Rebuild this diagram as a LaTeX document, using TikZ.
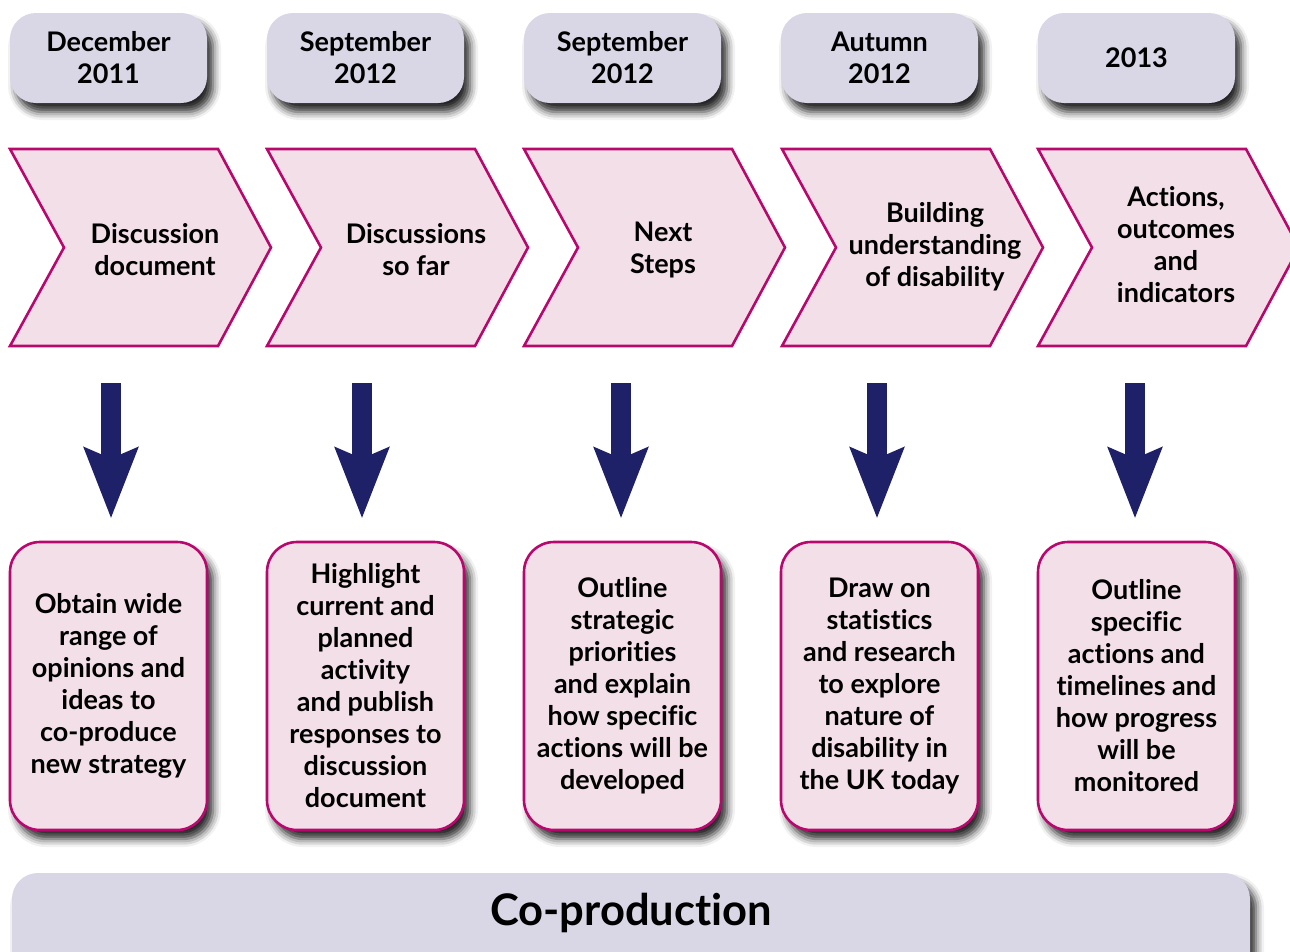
\documentclass[tikz,border=0pt]{standalone}
\usepackage{fontspec}
\setmainfont{Lato}[Ligatures=NoCommon]
\usetikzlibrary{arrows.meta,shadows.blur}
\definecolor{lav}{HTML}{D9D6E6}
\definecolor{pinkfill}{HTML}{F2DFE8}
\definecolor{mag}{HTML}{B8086E}
\definecolor{navy}{HTML}{1F2168}
\tikzset{
  txt/.style={font=\bfseries\fontsize{27}{32}\selectfont, align=center, text=black, inner sep=0pt},
  shad/.style={blur shadow={shadow xshift=6pt, shadow yshift=-9pt, shadow blur radius=8pt, shadow opacity=85}},
  datebox/.style={txt, fill=lav, rounded corners=26pt, minimum width=197pt, minimum height=90pt, shad},
  chev/.style={fill=pinkfill, draw=mag, line width=2.6pt, line join=miter},
  infobox/.style={txt, fill=pinkfill, draw=mag, line width=2.6pt, rounded corners=30pt,
    minimum width=197pt, minimum height=288pt, shad},
  bigarrow/.style={draw=navy, line width=20pt, -{Stealth[length=70pt, width=52pt, inset=10pt, fill=navy]}},
  coprod/.style={fill=lav, rounded corners=26pt, minimum width=1238pt, minimum height=110pt, inner sep=0pt, shad},
}
\begin{document}
\begin{tikzpicture}[x=1pt,y=-1pt]
\useasboundingbox (0,0) rectangle (1290,951);
% date boxes
\node[datebox] (d1) at (108.5,58) {December\\2011};
\node[datebox] (d2) at (365.5,58) {September\\2012};
\node[datebox] (d3) at (622.5,58) {September\\2012};
\node[datebox] (d4) at (879.5,58) {Autumn\\2012};
\node[datebox] (d5) at (1136.5,58) {2013};
% chevrons
\foreach \L in {10,267,524,782,1038}{
  \draw[chev] (\L,149) -- (\L+208,149) -- (\L+261,247.5) -- (\L+208,346) -- (\L,346) -- (\L+54,247.5) -- cycle;
}
\node[txt] (c1) at (155,250) {Discussion\\document};
\node[txt] (c2) at (416,250) {Discussions\\so far};
\node[txt] (c3) at (663,250) {Next\\Steps};
\node[txt] (c4) at (935,247) {Building\\understanding\\of disability};
\node[txt] (c5) at (1176,245) {Actions,\\outcomes\\and\\indicators};
% info boxes
\node[infobox] (b1) at (108.5,686) {Obtain wide\\range of\\opinions and\\ideas to\\co-produce\\new strategy};
\node[infobox] (b2) at (365.5,686) {Highlight\\current and\\planned\\activity\\and publish\\responses to\\discussion\\document};
\node[infobox] (b3) at (622.5,686) {Outline\\strategic\\priorities\\and explain\\how specific\\actions will be\\developed};
\node[infobox] (b4) at (879.5,686) {Draw on\\statistics\\and research\\to explore\\nature of\\disability in\\the UK today};
\node[infobox] (b5) at (1136.5,686) {Outline\\specific\\actions and\\timelines and\\how progress\\will be\\monitored};
% arrows
\coordinate (s1) at (111,383); \coordinate (s2) at (362,383); \coordinate (s3) at (621,383);
\coordinate (s4) at (877,383); \coordinate (s5) at (1135,383);
\foreach \i in {1,...,5}{
  \draw[bigarrow] (s\i) -- ([yshift=22pt]s\i |- b\i.north);
}
% co-production bar
\node[coprod] (cp) at (631,928) {};
\node[font=\bfseries\fontsize{43.5}{50}\selectfont, inner sep=0pt] (cpt) at (631,913) {Co-production};
\end{tikzpicture}
\end{document}
